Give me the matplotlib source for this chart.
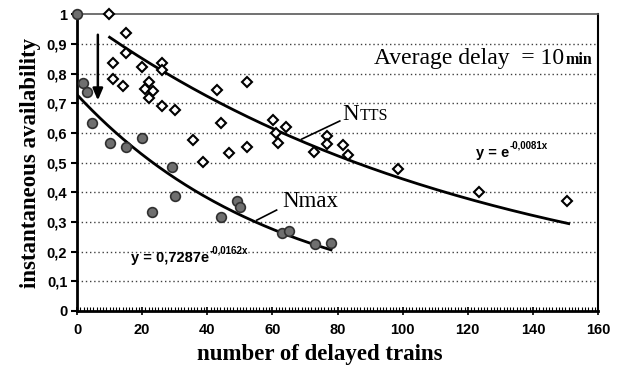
"""Instantaneous availability vs number of delayed trains (average delay 10 min)."""
import numpy as np
import matplotlib
matplotlib.use("Agg")
import matplotlib.pyplot as plt

# NTTS observations (open markers)
ntts_x = [9.8, 15.0, 15.0, 11.0, 11.0, 14.1, 19.9, 26.1, 26.1, 22.0, 20.9, 23.3,
          22.0, 26.1, 30.1, 35.6, 38.7, 42.9, 44.2, 46.6, 52.1, 52.1, 60.1, 61.0,
          61.7, 64.1, 72.7, 76.7, 76.7, 81.6, 83.1, 98.5, 123.6, 150.6]
ntts_y = [1.0, 0.936, 0.869, 0.835, 0.781, 0.758, 0.822, 0.835, 0.811, 0.771, 0.747, 0.741,
          0.717, 0.690, 0.677, 0.576, 0.502, 0.744, 0.633, 0.532, 0.771, 0.552, 0.643, 0.599,
          0.566, 0.619, 0.535, 0.589, 0.562, 0.559, 0.525, 0.478, 0.401, 0.370]

# Nmax observations (grey filled markers)
nmax_x = [0.0, 1.8, 3.1, 4.6, 10.1, 15.0, 19.9, 29.1, 23.0, 30.1, 44.2, 49.1,
          50.0, 62.9, 65.0, 73.0, 77.9]
nmax_y = [1.0, 0.768, 0.737, 0.633, 0.566, 0.552, 0.582, 0.485, 0.333, 0.387, 0.316, 0.370,
          0.350, 0.263, 0.269, 0.226, 0.229]

# exponential trend lines: y = a * exp(b x) over [x0, x1]
ntts_fit = (1.0, -0.0081, 10.0, 151.0)
nmax_fit = (0.7287, -0.0162, 0.0, 78.0)

yticks = [0, 0.1, 0.2, 0.3, 0.4, 0.5, 0.6, 0.7, 0.8, 0.9, 1.0]
ytick_labels = ["0", "0,1", "0,2", "0,3", "0,4", "0,5", "0,6", "0,7", "0,8", "0,9", "1"]
xticks = [0, 20, 40, 60, 80, 100, 120, 140, 160]

SERIF = "Liberation Serif"
SANS = "Liberation Sans"

fig = plt.figure(figsize=(6.21, 3.72), dpi=100)
ax = fig.add_axes([0.124, 0.164, 0.839, 0.798])

# grid
for v in yticks[1:-1]:
    ax.axhline(v, color="0.25", linestyle=(0, (1, 2)), linewidth=1.0, zorder=0)

# trend lines
for a, b, x0, x1 in (ntts_fit, nmax_fit):
    xs = np.linspace(x0, x1, 200)
    ax.plot(xs, a * np.exp(b * xs), color="black", linewidth=2.0, zorder=2)

ax.plot(ntts_x, ntts_y, linestyle="none", marker="D", markersize=5.2,
        markerfacecolor="white", markeredgecolor="black", markeredgewidth=1.5,
        zorder=3, clip_on=False)
ax.plot(nmax_x, nmax_y, linestyle="none", marker="o", markersize=7,
        markerfacecolor="#6f6f6f", markeredgecolor="#303030", markeredgewidth=1.2,
        zorder=3, clip_on=False)

# arrow
ax.annotate("", xy=(6.4, 0.70), xytext=(6.4, 0.94),
            arrowprops=dict(arrowstyle="-|>,head_width=0.3,head_length=0.7",
                            color="black", linewidth=1.8))

# leader lines
ax.plot([69.0, 80.7], [0.579, 0.640], color="black", linewidth=1.2)
ax.plot([55.2, 61.3], [0.306, 0.340], color="black", linewidth=1.2)


def with_suffix(x, y, main, suffix, main_kw, suffix_kw, dy=0, va="baseline"):
    t = ax.text(x, y, main, va="baseline", **main_kw)
    ax.annotate(suffix, xy=(1, 0), xycoords=t, xytext=(0.5, dy),
                textcoords="offset points", va=va, **suffix_kw)
    return t


# labels on curves (suffix baseline = main baseline)
with_suffix(81.6, 0.643, "N", "TTS",
            dict(fontfamily=SERIF, fontsize=16.5),
            dict(fontfamily=SERIF, fontsize=11.5), dy=3.6)
ax.text(62.9, 0.350, "Nmax", fontfamily=SERIF, fontsize=16.5, va="baseline")
with_suffix(91.3, 0.832, "Average delay  = 10", "min",
            dict(fontfamily=SERIF, fontsize=17),
            dict(fontfamily=SERIF, fontsize=11.5, fontweight="bold"), dy=3.7)

# equations
eq_kw = dict(fontfamily=SANS, fontsize=10.5, fontweight="bold")
exp_kw = dict(fontfamily=SANS, fontsize=7, fontweight="bold")
with_suffix(122.5, 0.518, "y = e", "-0,0081x", eq_kw, exp_kw, dy=7, va="bottom")
with_suffix(16.5, 0.165, "y = 0,7287e", "-0,0162x", eq_kw, exp_kw, dy=7, va="bottom")

ax.set_xlim(0, 160)
ax.set_ylim(0, 1)
ax.set_xticks(xticks)
ax.set_xticks(np.arange(0, 161, 1), minor=True)
ax.set_yticks(yticks)
ax.set_yticklabels(ytick_labels)

for lab in ax.get_xticklabels() + ax.get_yticklabels():
    lab.set_fontfamily(SANS)
    lab.set_fontweight("bold")
    lab.set_fontsize(10.5)

ax.tick_params(axis="y", direction="out", length=4, width=1.5, pad=3)
ax.tick_params(axis="x", which="major", direction="inout", length=6, width=1.2, pad=6)
ax.tick_params(axis="x", which="minor", direction="in", length=3, width=0.8)

ax.spines["left"].set_linewidth(2.0)
ax.spines["bottom"].set_linewidth(2.0)
ax.spines["top"].set_linewidth(1.2)
ax.spines["top"].set_color("0.35")
ax.spines["right"].set_linewidth(1.5)

ax.set_xlabel("number of delayed trains", fontfamily=SERIF, fontsize=16.5,
              fontweight="bold")
ax.xaxis.set_label_coords(0.466, -0.11)
ax.set_ylabel("instantaneous availability", fontfamily=SERIF, fontsize=16.5,
              fontweight="bold", labelpad=4)

fig.savefig("out.png", dpi=100)
